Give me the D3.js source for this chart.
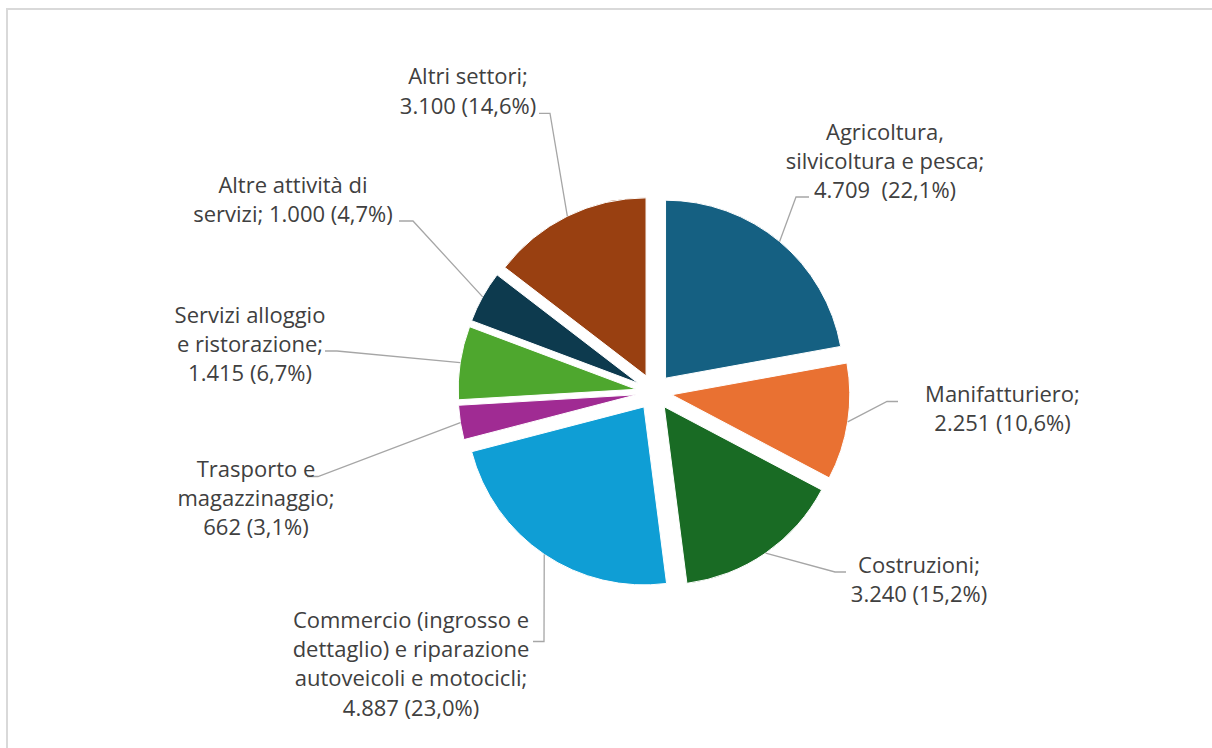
<!DOCTYPE html>
<html>
<head>
<meta charset="utf-8">
<script src="https://cdn.jsdelivr.net/npm/d3@7"></script>
<style>
  html, body { margin: 0; padding: 0; background: #ffffff; }
  svg { display: block; }
</style>
</head>
<body>
<svg id="chart" width="1212" height="748"></svg>
<script>
// ---- DATA ----
const categories = [
  "Agricoltura, silvicoltura e pesca",
  "Manifatturiero",
  "Costruzioni",
  "Commercio (ingrosso e dettaglio) e riparazione autoveicoli e motocicli",
  "Trasporto e magazzinaggio",
  "Servizi alloggio e ristorazione",
  "Altre attività di servizi",
  "Altri settori"
];
const values = [4709, 2251, 3240, 4887, 662, 1415, 1000, 3100];
const colors = ["#156082", "#E97132", "#196B24", "#0F9ED5", "#A02B93", "#4EA72E", "#0D3A4E", "#994011"];

// Label text lines ({v} = value, {p} = percentage)
const labelLines = [
  ["Agricoltura,", "silvicoltura e pesca;", "{v}  ({p})"],
  ["Manifatturiero;", "{v} ({p})"],
  ["Costruzioni;", "{v} ({p})"],
  ["Commercio (ingrosso e", "dettaglio) e riparazione", "autoveicoli e motocicli;", "{v} ({p})"],
  ["Trasporto e", "magazzinaggio;", "{v} ({p})"],
  ["Servizi alloggio", "e ristorazione;", "{v} ({p})"],
  ["Altre attività di", "servizi; {v} ({p})"],
  ["Altri settori;", "{v} ({p})"]
];

// ---- LAYOUT ----
const W = 1212, H = 748;
const cx = 654, cy = 392, R = 178, explode = 18;
const lineH = 29.2;
// label block: text centre x, first baseline y; leader: elbow point and end x
const labelLayout = [
  { x: 885,   y: 139.5, elbow: [796, 197],   endX: 809 },
  { x: 1002.5,y: 401.5, elbow: [887, 401.5], endX: 898 },
  { x: 919,   y: 573,   elbow: [835, 572],   endX: 846 },
  { x: 411,   y: 628,   elbow: [544, 641.5], endX: 533 },
  { x: 256,   y: 477,   elbow: [318, 476.5], endX: 307 },
  { x: 250,   y: 322.7, elbow: [337, 351],   endX: 325 },
  { x: 293,   y: 192.5, elbow: [413, 221],   endX: 399 },
  { x: 468,   y: 84.3,  elbow: [550, 113.3], endX: 539 }
];

const itLocale = d3.formatLocale({ decimal: ",", thousands: ".", grouping: [3], currency: ["€", ""] });
const fmtInt = itLocale.format(",d");
const fmtPct = itLocale.format(".1f");
const total = d3.sum(values);

const svg = d3.select("#chart");

// chart border
svg.append("rect")
  .attr("x", 7).attr("y", 9)
  .attr("width", W + 20).attr("height", H + 20)
  .attr("fill", "none")
  .attr("stroke", "#d9d9d9")
  .attr("stroke-width", 2);

const pie = d3.pie().sort(null).value(d => d)(values);
const arc = d3.arc().innerRadius(0).outerRadius(R);

const g = svg.append("g").attr("transform", `translate(${cx},${cy})`);

function offsetOf(d) {
  const a = (d.startAngle + d.endAngle) / 2;
  return [explode * Math.sin(a), -explode * Math.cos(a)];
}

g.selectAll("path.slice")
  .data(pie)
  .enter()
  .append("path")
  .attr("class", "slice")
  .attr("d", arc)
  .attr("transform", d => { const o = offsetOf(d); return `translate(${o[0]},${o[1]})`; })
  .attr("fill", (d, i) => colors[i])
  .attr("stroke", "#ffffff")
  .attr("stroke-width", 1);

// leader lines
pie.forEach((d, i) => {
  const a = (d.startAngle + d.endAngle) / 2;
  const o = offsetOf(d);
  const px = cx + o[0] + R * Math.sin(a);
  const py = cy + o[1] - R * Math.cos(a);
  const L = labelLayout[i];
  const pts = [[px, py], L.elbow, [L.endX, L.elbow[1]]];
  svg.append("path")
    .attr("d", d3.line()(pts))
    .attr("fill", "none")
    .attr("stroke", "#a6a6a6")
    .attr("stroke-width", 1.3);
});

// labels
pie.forEach((d, i) => {
  const L = labelLayout[i];
  const v = fmtInt(values[i]);
  const p = fmtPct(values[i] / total * 100) + "%";
  const t = svg.append("text")
    .attr("text-anchor", "middle")
    .attr("font-family", "'Open Sans', 'Noto Sans', sans-serif")
    .attr("font-size", 22)
    .attr("fill", "#404040")
    .style("white-space", "pre");
  labelLines[i].forEach((ln, k) => {
    t.append("tspan")
      .attr("x", L.x)
      .attr("y", L.y + k * lineH)
      .text(ln.replace("{v}", v).replace("{p}", p));
  });
});
</script>
</body>
</html>
